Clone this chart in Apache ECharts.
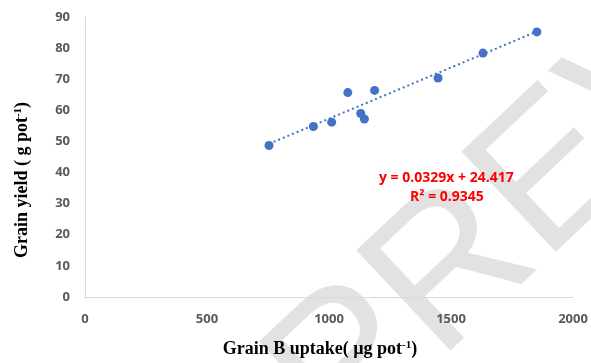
<!DOCTYPE html>
<html>
<head>
<meta charset="utf-8">
<script src="https://cdn.jsdelivr.net/npm/echarts@6/dist/echarts.min.js"></script>
<style>
  html, body { margin: 0; padding: 0; background: #fff; }
  #main { width: 591px; height: 363px; }
</style>
</head>
<body>
<div id="main"></div>
<script>
// grain B uptake (x) vs grain yield (y)
var uptake = [754, 936, 1011, 1077, 1130, 1145, 1187, 1447, 1631, 1852];
var yieldVals = [48.7, 54.8, 56.2, 65.7, 59.0, 57.2, 66.4, 70.4, 78.4, 85.2];

// linear trendline as printed on the chart
var slope = 0.0329;
var intercept = 24.417;
var r2 = '0.9345';

var points = uptake.map(function (x, i) { return [x, yieldVals[i]]; });
var xMin = Math.min.apply(null, uptake);
var xMax = Math.max.apply(null, uptake);
var trend = [[xMin, slope * xMin + intercept], [xMax, slope * xMax + intercept]];

var tickFont = { color: '#595959', fontSize: 13, fontFamily: 'Open Sans', fontWeight: 'bold' };
function titleFont(pad) {
  return {
    fontFamily: 'Liberation Serif', fontWeight: 'bold', fontSize: 18, color: '#000', padding: pad,
    rich: { sup: { fontFamily: 'Liberation Serif', fontWeight: 'bold', fontSize: 11, color: '#000', verticalAlign: 'top', padding: [0, 0, 7, 0] } }
  };
}

var chart = echarts.init(document.getElementById('main'));
chart.setOption({
  animation: false,
  grid: { left: 85, right: 18, top: 17, bottom: 65 },
  xAxis: {
    type: 'value', min: 0, max: 2000, interval: 500,
    name: 'Grain B uptake( µg pot{sup|-1})',
    nameLocation: 'middle', nameGap: 43,
    nameTextStyle: titleFont([0, 18, 0, 0]),
    axisLine: { lineStyle: { color: '#d9d9d9' } },
    axisTick: { show: false },
    splitLine: { show: false },
    axisLabel: Object.assign({ margin: 16, formatter: function (v) { return String(v); } }, tickFont)
  },
  yAxis: {
    type: 'value', min: 0, max: 90, interval: 10,
    name: 'Grain yield ( g pot{sup|-1})',
    nameLocation: 'middle', nameGap: 54,
    nameTextStyle: titleFont([0, 46, 0, 0]),
    axisLine: { show: true, lineStyle: { color: '#d9d9d9' } },
    axisTick: { show: false },
    splitLine: { show: false },
    axisLabel: Object.assign({ margin: 15 }, tickFont)
  },
  graphic: [
    {
      type: 'text', x: 235, y: 340, rotation: Math.PI * 0.24, z: -10,
      style: { text: 'PREVIEW', fill: 'rgba(190,190,190,0.45)', font: '200px "Liberation Sans"' }
    },
    {
      type: 'text', left: 379, top: 171, z: 10,
      style: { text: 'y = 0.0329x + 24.417', fill: '#ff0000', font: 'bold 14px "Open Sans"' }
    },
    {
      type: 'text', left: 410, top: 190, z: 10,
      style: { text: 'R² = ' + r2, fill: '#ff0000', font: 'bold 14px "Open Sans"' }
    }
  ],
  series: [
    {
      type: 'line', data: trend, symbol: 'none', z: 2,
      lineStyle: { color: '#4472c4', width: 2, type: [2, 3] }
    },
    {
      type: 'scatter', data: points, symbolSize: 9, z: 3,
      itemStyle: { color: '#4472c4', opacity: 1 }
    }
  ]
});
</script>
</body>
</html>
